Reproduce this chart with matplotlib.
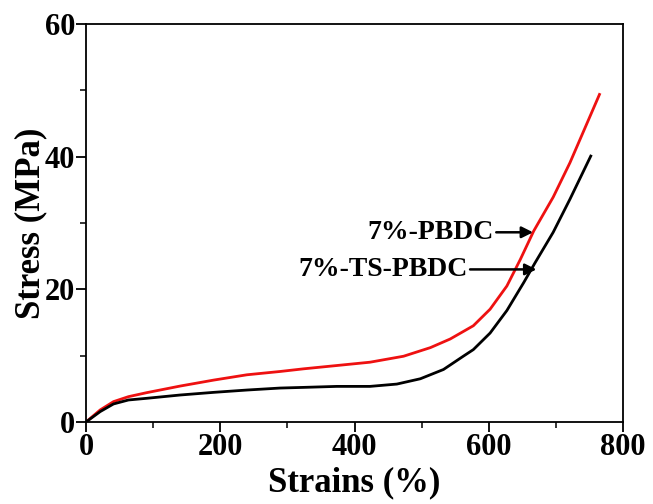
"""Stress-strain curves for the 7% PBDC films."""
import numpy as np
import matplotlib as mpl
mpl.use('Agg')
import matplotlib.pyplot as plt
from matplotlib.ticker import MultipleLocator

params = {'font.family': 'Liberation Serif',
          'font.weight': 'bold',
          'axes.labelweight': 'bold',
          'axes.linewidth': 1.3,
          'xtick.labelsize': 22,
          'ytick.labelsize': 22,
          'xtick.major.size': 7,
          'ytick.major.size': 7,
          'xtick.minor.size': 4,
          'ytick.minor.size': 4,
          'xtick.major.width': 1.3,
          'ytick.major.width': 1.3,
          'xtick.minor.width': 1.1,
          'ytick.minor.width': 1.1}
plt.rcParams.update(params)

# 7%-PBDC (red)
strain_pbdc = [0, 20.9, 40.7, 63, 90, 140, 190, 239.5, 289, 324, 373.6, 423,
               473, 513, 542.5, 577, 602, 627, 647, 667, 696, 721, 765]
stress_pbdc = [0, 1.8, 3.05, 3.8, 4.4, 5.4, 6.3, 7.1, 7.6, 8.0, 8.5, 9.0,
               9.9, 11.2, 12.5, 14.5, 17.0, 20.5, 24.5, 28.8, 33.9, 39.1, 49.4]

# 7%-TS-PBDC (black)
strain_ts = [0, 20.9, 40.7, 63, 90, 140, 190, 239.5, 289, 324, 373.6, 423,
             463, 498, 532.5, 562, 577, 602, 627, 652, 669, 696, 721, 752]
stress_ts = [0, 1.55, 2.7, 3.3, 3.55, 4.05, 4.45, 4.8, 5.1, 5.2, 5.35, 5.35,
             5.7, 6.5, 7.9, 9.9, 10.9, 13.4, 16.8, 21.0, 24.0, 28.6, 33.6, 40.1]


fig = plt.figure(figsize=(6.53, 5.04), dpi=100)
fig.subplots_adjust(0.132, 0.163, 0.954, 0.952)
ax = fig.add_subplot(111)

ax.plot(strain_pbdc, stress_pbdc, color='#ee1111', lw=2.0)
ax.plot(strain_ts, stress_ts, color='black', lw=2.0)

ax.set_xlim(0, 800)
ax.set_ylim(0, 60)
ax.xaxis.set_major_locator(MultipleLocator(200))
ax.xaxis.set_minor_locator(MultipleLocator(100))
ax.yaxis.set_major_locator(MultipleLocator(20))
ax.yaxis.set_minor_locator(MultipleLocator(10))
ax.tick_params(which='both', direction='out', top=False, right=False, pad=1)
for lab in ax.get_xticklabels() + ax.get_yticklabels():
    lab.set_fontweight('bold')

ax.set_xlabel('Strains (%)', fontsize=25, labelpad=3)
ax.set_ylabel('Stress (MPa)', fontsize=25, labelpad=-2)

arrow = dict(arrowstyle='-|>', color='black', lw=1.8, mutation_scale=17,
             shrinkA=0, shrinkB=0)
ax.annotate('7%-PBDC', xy=(666, 28.6), xytext=(607, 28.6), ha='right',
            va='center', fontsize=20, fontweight='bold', arrowprops=arrow)
ax.annotate('7%-TS-PBDC', xy=(671, 23.0), xytext=(568, 23.0), ha='right',
            va='center', fontsize=20, fontweight='bold', arrowprops=arrow)

fig.savefig('out.png', dpi=100)
